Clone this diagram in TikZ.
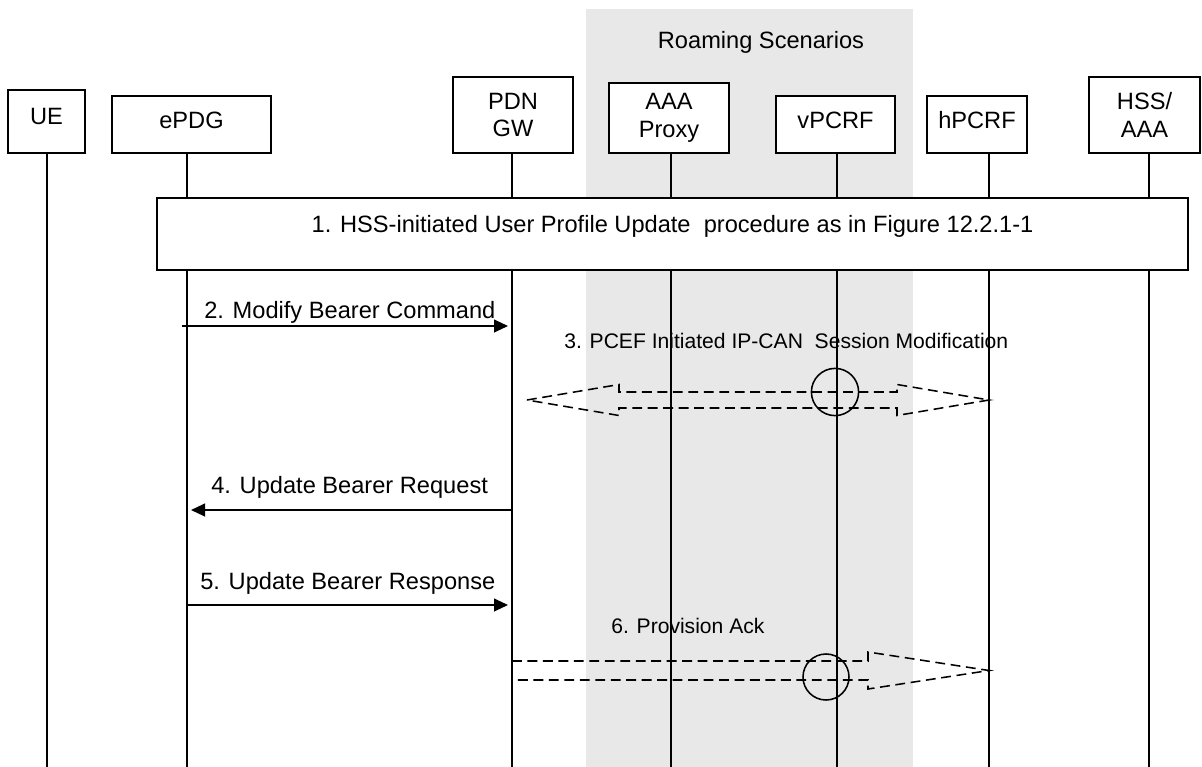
\documentclass[tikz,border=0pt]{standalone}
\usepackage{fontspec}
\setmainfont{Liberation Sans}
\usetikzlibrary{arrows.meta,calc}
\definecolor{roam}{RGB}{232,232,232}
\begin{document}
\begin{tikzpicture}[x=0.025cm, y=-0.025cm, >={Triangle[length=0.35cm,width=0.32cm]},
  ent/.style={draw, fill=white, line width=1.3pt, inner sep=0pt, anchor=north, font=\fontsize{16.8}{19.8}\selectfont},
  one/.style={ent, text depth=0.23cm},
  two/.style={ent, align=center},
  life/.style={line width=1.3pt},
  msg/.style={->, line width=1.2pt, shorten >=0.1cm},
  lbl/.style={anchor=base west, inner sep=0pt, font=\fontsize{16.8}{19.8}\selectfont},
  note/.style={anchor=base west, inner sep=0pt, font=\fontsize{15}{18}\selectfont},
  blk/.style={line width=1.1pt, dash pattern=on 7pt off 4pt},
  ring/.style={draw, circle, line width=1.1pt, inner sep=0pt}]
\useasboundingbox (0,0) rectangle (1202,767);
\fill[roam] (586,9) rectangle (913,767);
\node[lbl, anchor=base] (roaming) at (761,48.5) {Roaming Scenarios};
\coordinate (bot) at (0,767);
\coordinate (ueL) at (47,152);
\coordinate (epdgL) at (187,152);
\coordinate (pdnL) at (512,152);
\coordinate (aaaL) at (671,152);
\coordinate (vpcrfL) at (837,152);
\coordinate (hpcrfL) at (989,152);
\coordinate (hssL) at (1149,152);
\draw[life] (ueL) -- (ueL |- bot);
\draw[life] (epdgL) -- (epdgL |- bot);
\draw[life] (pdnL) -- (pdnL |- bot);
\draw[life] (aaaL) -- (aaaL |- bot);
\draw[life] (vpcrfL) -- (vpcrfL |- bot);
\draw[life] (hpcrfL) -- (hpcrfL |- bot);
\draw[life] (hssL) -- (hssL |- bot);
\node[one, minimum width=1.925cm, minimum height=1.575cm] (ue) at (46.5,89) {UE};
\node[one, minimum width=3.975cm, minimum height=1.425cm] (epdg) at (191.5,95) {ePDG};
\node[two, minimum width=3cm, minimum height=1.9cm] (pdn) at (513,76) {PDN\\GW};
\node[two, minimum width=3cm, minimum height=1.75cm] (aaa) at (669,82) {AAA\\Proxy};
\node[one, minimum width=2.975cm, minimum height=1.425cm] (vpcrf) at (835.5,95) {vPCRF};
\node[one, minimum width=2.5cm, minimum height=1.425cm] (hpcrf) at (977,95) {hPCRF};
\node[two, minimum width=2.775cm, minimum height=1.9cm] (hss) at (1144.5,76) {HSS/\\AAA};
\node[ent, anchor=north west, minimum width=25.775cm, minimum height=1.8cm, text depth=0.51cm] (upd) at (156,197) {1. HSS-initiated User Profile Update \ procedure as in Figure 12.2.1-1};
\coordinate (m2) at (0,326);
\coordinate (m3) at (0,400);
\coordinate (m4) at (0,510);
\coordinate (m5) at (0,605);
\coordinate (m6) at (0,670.5);
\node[lbl] (t2) at (204,318) {2. Modify Bearer Command};
\draw[msg, shorten <=-0.12cm] (epdgL |- m2) -- (pdnL |- m2);
\node[note] (t3) at (564,348) {3. PCEF Initiated IP-CAN \ Session Modification};
\coordinate (a3l) at (527,400);
\coordinate (a3r) at (hpcrfL |- m3);
\draw[blk] (a3l) -- ($(a3l)+(92,-15.5)$) -- ($(a3l)+(92,-8)$) -- ($(a3r)+(-92,-8)$) -- ($(a3r)+(-92,-15.5)$) -- (a3r) -- ($(a3r)+(-92,15.5)$) -- ($(a3r)+(-92,8)$) -- ($(a3l)+(92,8)$) -- ($(a3l)+(92,15.5)$) -- cycle;
\node[ring, minimum size=1.18cm] (c3) at (835,392) {};
\node[lbl] (t4) at (211,493) {4. Update Bearer Request};
\draw[msg] (pdnL |- m4) -- (epdgL |- m4);
\node[lbl] (t5) at (200,589) {5. Update Bearer Response};
\draw[msg] (epdgL |- m5) -- (pdnL |- m5);
\node[note] (t6) at (611,633.5) {6. Provision Ack};
\coordinate (a6l) at (pdnL |- m6);
\coordinate (a6r) at (hpcrfL |- m6);
\draw[blk] ($(a6l)+(0,-9.5)$) -- ($(a6r)+(-121,-9.5)$) -- ($(a6r)+(-121,-18.5)$) -- (a6r) -- ($(a6r)+(-121,18.5)$) -- ($(a6r)+(-121,9.5)$) -- ($(a6l)+(0,9.5)$) -- cycle;
\node[ring, minimum size=1.15cm] (c6) at (826,677) {};
\end{tikzpicture}
\end{document}
